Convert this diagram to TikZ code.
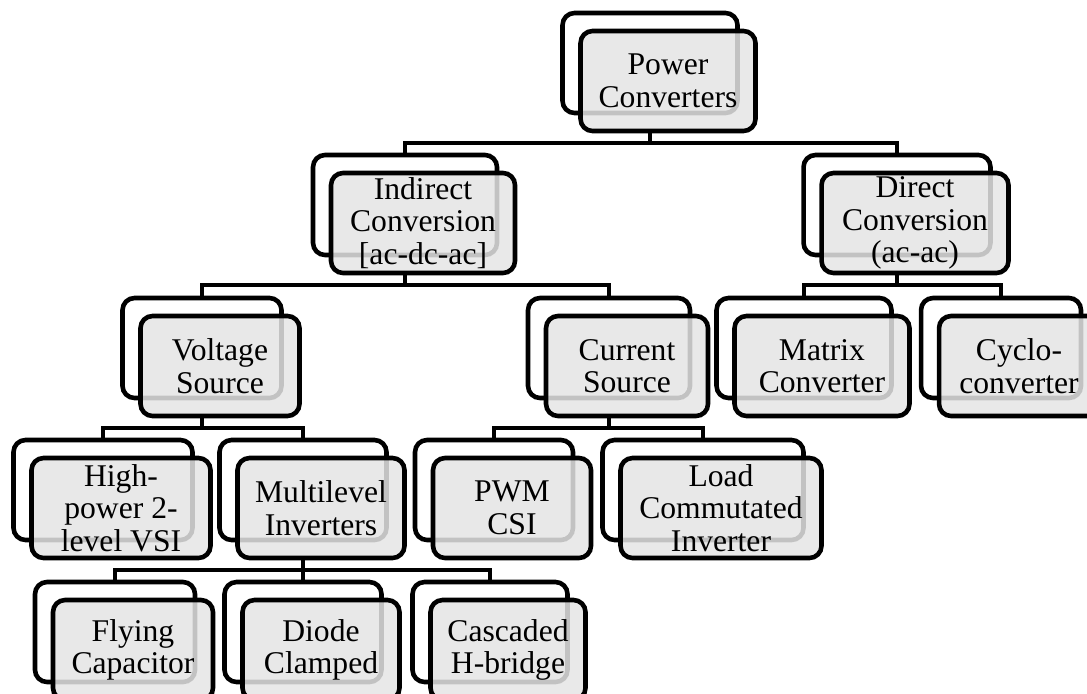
\documentclass[tikz,border=0pt]{standalone}
\usepackage{fontspec}
\setmainfont{Liberation Serif}

\begin{document}
\begin{tikzpicture}[x=0.02cm,y=-0.02cm,
  back/.style={draw,line width=2.6pt,rounded corners=0.24cm,fill=white,
    minimum height=2cm,inner sep=0pt,outer sep=0pt},
  front/.style={back,fill=gray!20,fill opacity=.85,text opacity=1,
    align=center,font=\fontsize{18}{18.5}\selectfont},
  link/.style={line width=1.8pt}]
  \useasboundingbox (0,0) rectangle (1087,693);
  \foreach \n/\x/\y/\w/\t in {
      pc/650/63/175/{Power\\Converters},
      ic/405/205/184/{Indirect\\Conversion\\{[}ac-dc-ac{]}},
      dc/897/205/187/{Direct\\Conversion\\(ac-ac)},
      vs/202/348/159/{Voltage\\Source},
      cs/609/348/162/{Current\\Source},
      mc/804/348/175/{Matrix\\Converter},
      cc/1001/348/160/{Cyclo-\\converter},
      hp/103/490/179/{High-\\power 2-\\level VSI},
      ml/303/490/167/{Multilevel\\Inverters},
      pw/494/490/158/{PWM\\CSI},
      lc/703/490/201/{Load\\Commutated\\Inverter},
      fc/115/632/160/{Flying\\Capacitor},
      dm/303/632/157/{Diode\\Clamped},
      hb/490/632/155/{Cascaded\\H-bridge}}{
    \node[back,minimum width=\w*0.2mm] (\n) at (\x,\y) {};
    \node[front,minimum width=\w*0.2mm] (\n-f) at ([shift={(18,18)}]\n.center) {\t};
  }
  \draw[link] (pc.south |- pc-f.south) -- ++(0,12) -| (ic.north);
  \draw[link] (pc.south |- pc-f.south) -- ++(0,12) -| (dc.north);
  \draw[link] (ic.south |- ic-f.south) -- ++(0,12) -| (vs.north);
  \draw[link] (ic.south |- ic-f.south) -- ++(0,12) -| (cs.north);
  \draw[link] (dc.south |- dc-f.south) -- ++(0,12) -| (mc.north);
  \draw[link] (dc.south |- dc-f.south) -- ++(0,12) -| (cc.north);
  \draw[link] (vs.south |- vs-f.south) -- ++(0,12) -| (hp.north);
  \draw[link] (vs.south |- vs-f.south) -- ++(0,12) -| (ml.north);
  \draw[link] (cs.south |- cs-f.south) -- ++(0,12) -| (pw.north);
  \draw[link] (cs.south |- cs-f.south) -- ++(0,12) -| (lc.north);
  \draw[link] (ml.south |- ml-f.south) -- ++(0,12) -| (fc.north);
  \draw[link] (ml.south |- ml-f.south) -- ++(0,12) -| (dm.north);
  \draw[link] (ml.south |- ml-f.south) -- ++(0,12) -| (hb.north);
\end{tikzpicture}
\end{document}
